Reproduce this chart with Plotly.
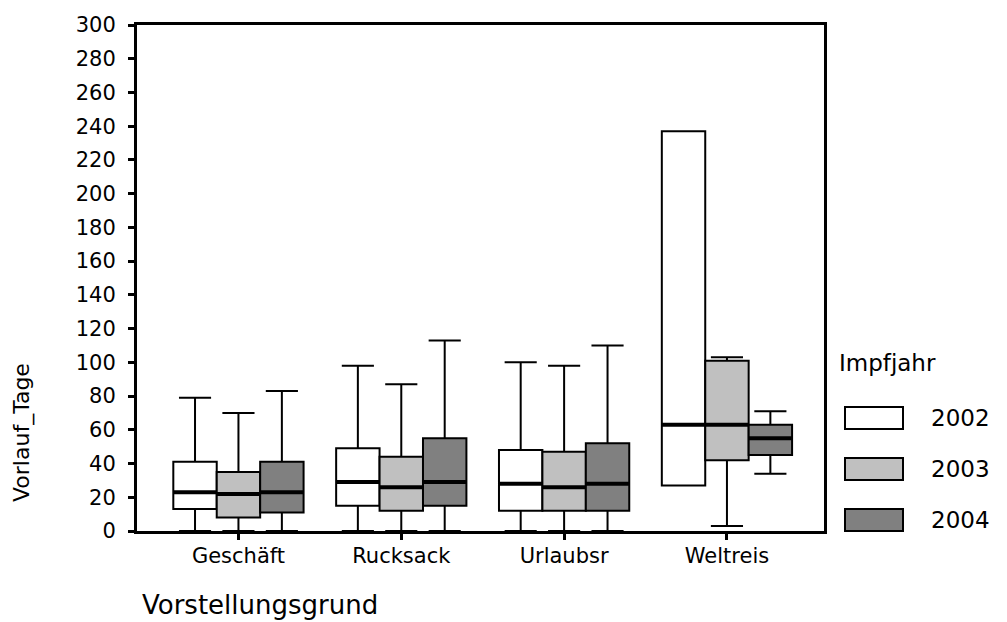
import plotly.graph_objects as go

# ---- data ----
categories = ["Geschäft", "Rucksack", "Urlaubsr", "Weltreis"]
years = ["2002", "2003", "2004"]
fills = ["#FFFFFF", "#C0C0C0", "#808080"]

lower = {
    "2002": [0, 0, 0, 27],
    "2003": [0, 0, 0, 3],
    "2004": [0, 0, 0, 34],
}
q1 = {
    "2002": [13, 15, 12, 27],
    "2003": [8, 12, 12, 42],
    "2004": [11, 15, 12, 45],
}
median = {
    "2002": [23, 29, 28, 63],
    "2003": [22, 26, 26, 63],
    "2004": [23, 29, 28, 55],
}
q3 = {
    "2002": [41, 49, 48, 237],
    "2003": [35, 44, 47, 101],
    "2004": [41, 55, 52, 63],
}
upper = {
    "2002": [79, 98, 100, 237],
    "2003": [70, 87, 98, 103],
    "2004": [83, 113, 110, 71],
}
y_ticks = list(range(0, 301, 20))

# ---- layout geometry (pixels) ----
W, H = 1007, 622
L, R, T, B = 137, 824, 25, 531
FONT = "DejaVu Sans"


def px(x):
    return (x - L) / (R - L)


def py(y):
    return (B - y) / (B - T)


fig = go.Figure()

for yr, fc in zip(years, fills):
    fig.add_trace(go.Box(
        x=categories, q1=q1[yr], median=median[yr], q3=q3[yr],
        lowerfence=lower[yr], upperfence=upper[yr],
        name=yr, offsetgroup=yr, alignmentgroup="a",
        fillcolor=fc, line=dict(color="black", width=2),
        whiskerwidth=0.74, boxpoints=False, showlegend=False,
        hoverinfo="skip",
    ))

# thick median bars
for yr in years:
    fig.add_trace(go.Box(
        x=categories, q1=median[yr], median=median[yr], q3=median[yr],
        lowerfence=median[yr], upperfence=median[yr],
        name=yr + " median", offsetgroup=yr, alignmentgroup="a",
        fillcolor="black", line=dict(color="black", width=4),
        whiskerwidth=0, boxpoints=False, showlegend=False,
        hoverinfo="skip",
    ))

# manual legend
shapes = []
annotations = []
annotations.append(dict(
    text="Impfjahr", x=px(837), y=py(363), xref="paper", yref="paper",
    xanchor="left", yanchor="middle", showarrow=False,
    font=dict(family=FONT, size=23, color="black"),
))
rect_tops = [407, 458, 509]
for yr, fc, top in zip(years, fills, rect_tops):
    shapes.append(dict(
        type="rect", xref="paper", yref="paper",
        x0=px(845), x1=px(903), y0=py(top + 22), y1=py(top),
        fillcolor=fc, line=dict(color="black", width=2),
    ))
    annotations.append(dict(
        text=yr, x=px(929), y=py(top + 11), xref="paper", yref="paper",
        xanchor="left", yanchor="middle", showarrow=False,
        font=dict(family=FONT, size=23, color="black"),
    ))

annotations.append(dict(
    text="Vorlauf_Tage", x=px(22), y=py(432), xref="paper", yref="paper",
    xanchor="center", yanchor="middle", showarrow=False, textangle=-90,
    font=dict(family=FONT, size=22, color="black"),
))
annotations.append(dict(
    text="Vorstellungsgrund", x=px(140), y=py(605), xref="paper", yref="paper",
    xanchor="left", yanchor="middle", showarrow=False,
    font=dict(family=FONT, size=26, color="black"),
))

fig.update_layout(
    width=W, height=H,
    margin=dict(l=L, r=W - R, t=T, b=H - B, pad=0),
    paper_bgcolor="white", plot_bgcolor="white",
    boxmode="group", boxgap=0.2, boxgroupgap=0,
    font=dict(family=FONT, size=21, color="black"),
    shapes=shapes, annotations=annotations,
    showlegend=False,
    xaxis=dict(
        type="category", range=[-0.623, 3.596],
        showline=True, linecolor="black", linewidth=3, mirror=True,
        ticks="outside", ticklen=6, tickwidth=3, tickcolor="black",
        showgrid=False, zeroline=False, ticklabelstandoff=-2,
        tickfont=dict(family=FONT, size=21, color="black"),
    ),
    yaxis=dict(
        range=[0, 300], tickmode="array", tickvals=y_ticks,
        ticktext=[str(v) for v in y_ticks],
        showline=True, linecolor="black", linewidth=3, mirror=True,
        ticks="outside", ticklen=6, tickwidth=3, tickcolor="black",
        showgrid=False, zeroline=False, ticklabelstandoff=8,
        tickfont=dict(family=FONT, size=21, color="black"),
    ),
)

fig.write_html("out.html")
